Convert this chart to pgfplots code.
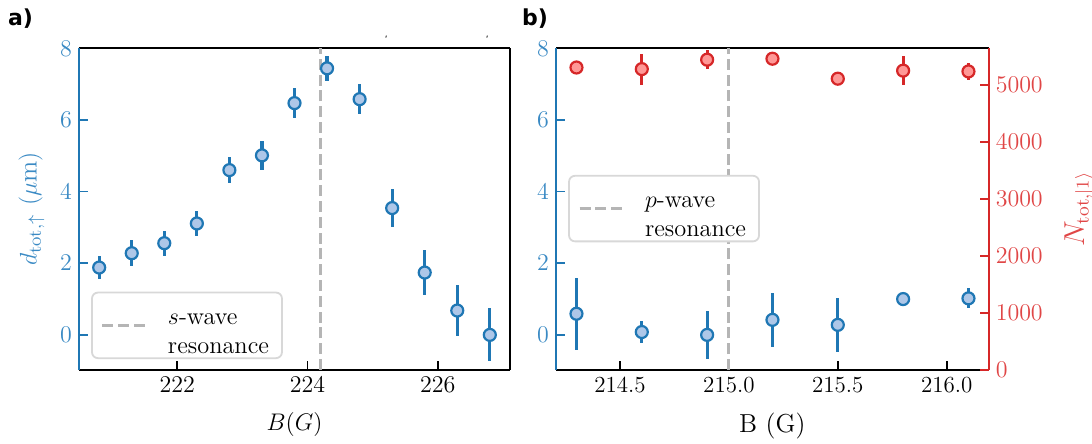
\documentclass[border=0pt]{standalone}
\usepackage{fontspec}
\usepackage{pgfplots}
\usepackage{pgfplotstable}
\pgfplotsset{compat=1.18}
\newfontfamily\panelfont{DejaVu Sans}
\definecolor{cb}{HTML}{1F77B4}
\definecolor{cbl}{HTML}{AEC7E8}
\definecolor{cbt}{HTML}{3A8AC4}
\definecolor{cr}{HTML}{D62728}
\definecolor{crl}{HTML}{FF9896}
\definecolor{crt}{HTML}{E04646}
\definecolor{dg}{HTML}{B5B5B5}
\definecolor{lgf}{HTML}{D8D8D8}

\pgfplotstableread{
x y e
220.8 1.88 0.32
221.3 2.28 0.36
221.8 2.56 0.35
222.3 3.11 0.36
222.8 4.60 0.37
223.3 5.01 0.41
223.8 6.47 0.42
224.3 7.44 0.34
224.8 6.58 0.41
225.3 3.54 0.52
225.8 1.74 0.63
226.3 0.68 0.72
226.8 0.00 0.74
}\dataA

\pgfplotstableread{
x y e
214.3 0.59 1.00
214.6 0.08 0.31
214.9 0.00 0.68
215.2 0.42 0.75
215.5 0.28 0.75
215.8 1.00 0.12
216.1 1.02 0.28
}\dataB

\pgfplotstableread{
x y e
214.3 5303 40
214.6 5275 272
214.9 5440 170
215.2 5457 40
215.5 5107 40
215.8 5248 256
216.1 5234 152
}\dataC

\pgfplotsset{
  base/.style={
    scale only axis, height=160.85pt,
    ymin=-0.98, ymax=8, ytick={0,2,4,6,8},
    tick align=inside, major tick length=4.6pt,
    tick label style={font=\fontsize{11.5}{13}\selectfont},
    label style={font=\fontsize{13}{15}\selectfont},
    xlabel shift=3pt,
    separate axis lines,
    axis line style={line width=0.9pt},
    axis y line*=left,
    y axis line style={draw=cb},
    x axis line style={draw=black},
    ytick style={draw=cb, line width=0.9pt},
    yticklabel style={text=cbt},
    ylabel style={text=cbt},
    xtick pos=bottom,
    xtick style={draw=black, line width=0.9pt},
    legend cell align=left,
    legend image code/.code={\draw[##1] (0pt,0pt) -- (23.5pt,0pt); \path (30pt,3pt);},
    legend style={anchor=south west, draw=lgf, line width=0.9pt, rounded corners=3pt,
      fill=white, font=\fontsize{12.2}{12.2}\selectfont, inner xsep=4.5pt, inner ysep=5.5pt},
  },
  bpts/.style={only marks, cb, mark=*, mark size=3pt,
    mark options={draw=cb, fill=cbl, line width=1.1pt, solid},
    error bars/.cd, y dir=both, y explicit, error mark=none,
    error bar style={line width=1.6pt, draw=cb, solid}},
  rpts/.style={only marks, cr, mark=*, mark size=3pt,
    mark options={draw=cr, fill=crl, line width=1.1pt, solid},
    error bars/.cd, y dir=both, y explicit, error mark=none,
    error bar style={line width=1.6pt, draw=cr, solid}},
  resline/.style={dg, line width=1.5pt, dash pattern=on 5.5pt off 2.4pt},
}

\begin{document}
\begin{tikzpicture}
% ---------- panel a ----------
\begin{axis}[base, name=a, at={(0pt,0pt)}, width=215.5pt,
  xmin=220.49, xmax=227.11, xtick={222,224,226},
  xlabel={$B(G)$}, ylabel shift=1pt,
  ylabel={$d_{\mathrm{tot},\uparrow}\ (\mu\mathrm{m})$},
  legend style={at={(0.028,0.034)}}]
\addplot[resline] coordinates {(224.2,-0.98) (224.2,8)};
\addlegendentry{\begin{tabular}{@{}l@{}}$s$-wave\\[2.2pt]resonance\end{tabular}}
\addplot[bpts] table[x=x, y=y, y error=e] {\dataA};
\end{axis}
\draw[line width=0.9pt] (a.south east) -- (a.north east);
% ---------- panel b ----------
\begin{axis}[base, name=b, at={(238.5pt,0pt)}, width=216.35pt,
  xmin=214.206, xmax=216.193, xtick={214.5,215,215.5,216},
  xticklabels={214.5,215.0,215.5,216.0},
  xlabel={B (G)},
  legend style={at={(0.028,0.397)}}]
\addplot[resline] coordinates {(215,-0.98) (215,8)};
\addlegendentry{\begin{tabular}{@{}l@{}}$p$-wave\\[2.2pt]resonance\end{tabular}}
\addplot[bpts] table[x=x, y=y, y error=e] {\dataB};
\end{axis}
\begin{axis}[at={(238.5pt,0pt)}, scale only axis, width=216.35pt, height=160.85pt,
  xmin=214.206, xmax=216.193, ymin=0, ymax=5640,
  axis x line=none, axis y line*=right,
  axis line style={line width=0.9pt, draw=cr},
  tick align=inside, major tick length=4.6pt,
  ytick={0,1000,2000,3000,4000,5000},
  scaled y ticks=false,
  ytick style={draw=cr, line width=0.9pt},
  tick label style={font=\fontsize{11.5}{13}\selectfont},
  yticklabel style={text=crt, /pgf/number format/1000 sep={}},
  label style={font=\fontsize{13.5}{15}\selectfont},
  ylabel style={text=crt}, ylabel shift=4pt,
  ylabel={$N_{\mathrm{tot},|1\rangle}$}]
\addplot[rpts] table[x=x, y=y, y error=e] {\dataC};
\end{axis}
% panel letters
\node[font=\panelfont\bfseries\fontsize{11}{13}\selectfont] at (-29.25pt,175.5pt) {a)};
\node[font=\panelfont\bfseries\fontsize{11}{13}\selectfont] at (228pt,175.5pt) {b)};
% small stray marks at the top of panel a
\draw[line width=0.5pt, black!75] (153.4pt,166.2pt) -- (153.7pt,167.2pt);
\draw[line width=0.5pt, black!75] (203.9pt,166.2pt) -- (204.2pt,167.2pt);
\pgfresetboundingbox
\path[use as bounding box] (-39.5pt,-37pt) rectangle (506.5pt,185pt);
\end{tikzpicture}
\end{document}
